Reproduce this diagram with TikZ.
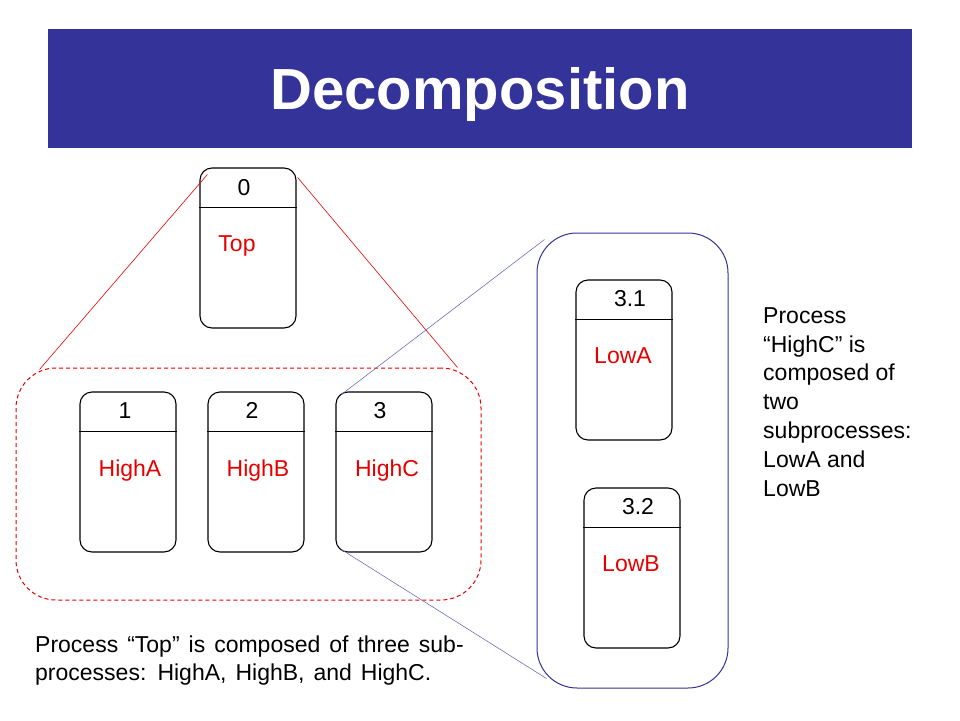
\documentclass[tikz,border=0pt]{standalone}
\usepackage{fontspec}
\setmainfont{Liberation Sans}
\usetikzlibrary{positioning}
\definecolor{titleblue}{RGB}{51,51,153}
\definecolor{namered}{RGB}{230,0,0}
\definecolor{zoomblue}{RGB}{110,110,185}
\newcommand{\widespaces}{\spaceskip=9pt\relax}
\tikzstyle{process} = [rectangle, rounded corners=12pt, minimum width=96pt, minimum height=160pt, inner sep=0pt, draw=black, line width=1.1pt]
\tikzstyle{procnum} = [anchor=base, inner sep=0pt, font=\fontsize{23pt}{29pt}\selectfont]
\tikzstyle{procname} = [anchor=base, inner sep=0pt, text=namered, font=\fontsize{23pt}{29pt}\selectfont]
\tikzstyle{divider} = [line width=1.1pt]
\tikzstyle{highgroup} = [rectangle, rounded corners=40pt, draw=namered, line width=1pt, dash pattern=on 4pt off 3pt, inner sep=0pt]
\tikzstyle{lowgroup} = [rectangle, rounded corners=40pt, draw=titleblue, line width=1pt, inner sep=0pt]
\tikzstyle{note} = [align=left, inner sep=0pt, font=\fontsize{23pt}{28.8pt}\selectfont]
\begin{document}
\begin{tikzpicture}[x=1pt, y=-1pt]
    \useasboundingbox (0,0) rectangle (960,720);

    \node (title) [fill=titleblue, minimum width=864pt, minimum height=119pt, text=white, text height=42pt, text depth=0pt, font=\fontsize{58pt}{60pt}\selectfont\bfseries] at (480,88.5) {Decomposition};

    % Procesos
    \node (top) [process] at (248,248) {};
    \node (high1) [process] at (128,472) {};
    \node (high2) [process] at (256,472) {};
    \node (high3) [process] at (384,472) {};
    \node (low1) [process] at (624,360) {};
    \node (low2) [process] at (632,568) {};

    \foreach \p in {top, high1, high2, high3, low1, low2}
        \draw [divider] ([yshift=-40pt]\p.north west) -- ([yshift=-40pt]\p.north east);

    \node (topnum) [procnum] at ([xshift=-4pt, yshift=-28pt]top.north) {0};
    \node (topname) [procname] at ([xshift=-11pt, yshift=-84pt]top.north) {Top};
    \node (high1num) [procnum] at ([xshift=-3pt, yshift=-27pt]high1.north) {1};
    \node (high1name) [procname] at ([xshift=2pt, yshift=-85pt]high1.north) {HighA};
    \node (high2num) [procnum] at ([xshift=-4pt, yshift=-27pt]high2.north) {2};
    \node (high2name) [procname] at ([xshift=2pt, yshift=-85pt]high2.north) {HighB};
    \node (high3num) [procnum] at ([xshift=-4pt, yshift=-27pt]high3.north) {3};
    \node (high3name) [procname] at ([xshift=3pt, yshift=-85pt]high3.north) {HighC};
    \node (low1num) [procnum] at ([xshift=6pt, yshift=-27pt]low1.north) {3.1};
    \node (low1name) [procname] at ([xshift=-1pt, yshift=-84pt]low1.north) {LowA};
    \node (low2num) [procnum] at ([xshift=6pt, yshift=-27pt]low2.north) {3.2};
    \node (low2name) [procname] at ([xshift=-1pt, yshift=-84pt]low2.north) {LowB};

    % Grupos
    \node (highs) [highgroup, minimum width=465pt, minimum height=232pt] at (248.5,484) {};
    \node (lows) [lowgroup, minimum width=191pt, minimum height=455pt] at (632.5,460.5) {};

    % Lineas de zoom
    \draw [namered, line width=0.6pt] ([xshift=8pt, yshift=-7pt]top.north west) -- ([xshift=24pt, yshift=-2pt]highs.north west);
    \draw [namered, line width=0.6pt] ([xshift=1pt, yshift=-10pt]top.north east) -- ([xshift=-24pt]highs.north east);
    \draw [zoomblue, line width=0.6pt] ([xshift=6pt, yshift=-3pt]high3.north west) -- ([xshift=8pt, yshift=-7pt]lows.north west);
    \draw [zoomblue, line width=0.6pt] ([xshift=6pt, yshift=3pt]high3.south west) -- ([xshift=10pt, yshift=10pt]lows.south west);

    % Notas
    \node (notehigh) [note, anchor=base west] at (763,496) {Process\\“HighC” is\\composed of\\two\\subprocesses:\\LowA and\\LowB};
    \node (notetop) [note, anchor=base west, font=\fontsize{23pt}{28pt}\selectfont\widespaces] at (35,680) {Process “Top” is composed of three sub-\\processes: HighA, HighB, and HighC.};
\end{tikzpicture}
\end{document}
